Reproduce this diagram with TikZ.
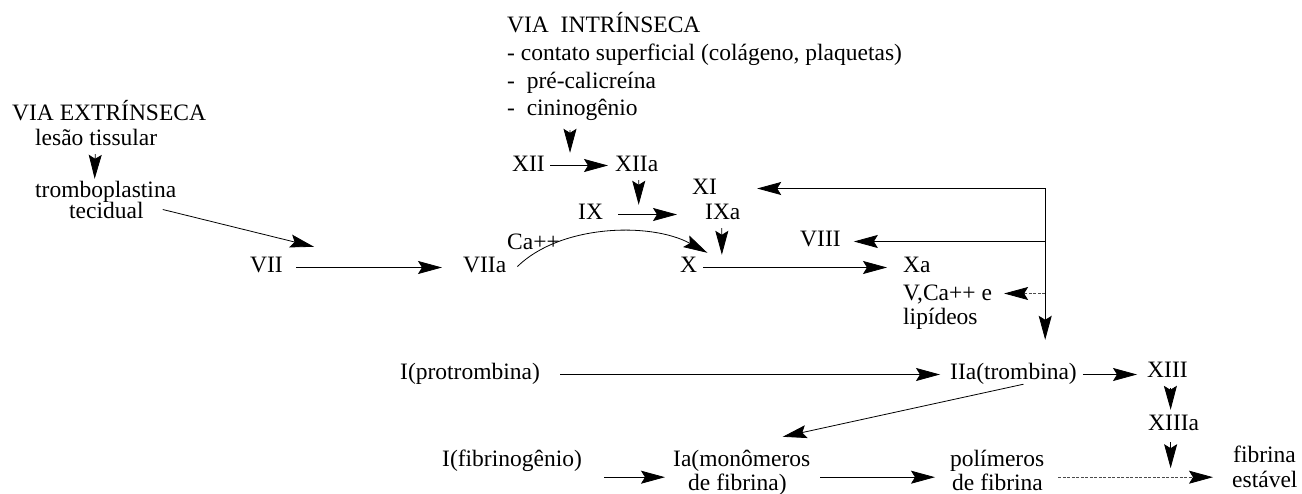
\documentclass[tikz,border=0pt]{standalone}
\usepackage{fontspec}
\setmainfont{Liberation Serif}
\usetikzlibrary{arrows.meta,calc}
\begin{document}
\begin{tikzpicture}[x=1pt,y=-1pt,
  lbl/.style={font=\fontsize{23.5}{28}\selectfont, inner sep=0pt, anchor=base west, text height=16pt, text depth=5pt},
  arr/.style={-{Stealth[length=24pt,width=13pt,inset=4pt,color=black]}, line width=0.8pt},
  dotln/.style={dash pattern=on 3pt off 1.5pt, draw=black!70}]
\useasboundingbox (0,0) rectangle (1302,494);
% texts
\node[lbl] (viaext) at (12,121) {VIA EXTRÍNSECA};
\node[lbl] (lesao) at (35,146) {lesão tissular};
\node[lbl] (trombo) at (35,198) {tromboplastina};
\node[lbl] (tecid) at (69,219) {tecidual};
\node[lbl] (viaint) at (507,33) {VIA\ \ INTRÍNSECA};
\node[lbl] (contato) at (507,61) {- contato superficial (colágeno, plaquetas)};
\node[lbl] (precal) at (507,89) {-\ \ pré-calicreína};
\node[lbl] (cinin) at (507,116) {-\ \ cininogênio};
\node[lbl] (xii) at (512,172) {XII};
\node[lbl] (xiia) at (615,172) {XIIa};
\node[lbl] (xi) at (692,195) {XI};
\node[lbl] (ix) at (578,220) {IX};
\node[lbl] (ixa) at (705,220) {IXa};
\node[lbl] (ca) at (507,250) {Ca++};
\node[lbl] (viii) at (800,247) {VIII};
\node[lbl] (vii) at (250,273) {VII};
\node[lbl] (viia) at (463,273) {VIIa};
\node[lbl] (x) at (680,273) {X};
\node[lbl] (xa) at (903,273) {Xa};
\node[lbl] (vca) at (903,301) {V,Ca++ e};
\node[lbl] (lip) at (903,325) {lipídeos};
\node[lbl] (prot) at (400,380) {I(protrombina)};
\node[lbl] (iia) at (950,380) {IIa(trombina)};
\node[lbl] (xiii) at (1147,378) {XIII};
\node[lbl] (xiiia) at (1148,430) {XIIIa};
\node[lbl] (fibg) at (442,466) {I(fibrinogênio)};
\node[lbl] (ia) at (673,466) {Ia(monômeros};
\node[lbl] (ia2) at (688,490) {de fibrina)};
\node[lbl] (pol) at (950,466) {polímeros};
\node[lbl] (pol2) at (952,490) {de fibrina};
\node[lbl] (fib) at (1233,462) {fibrina};
\node[lbl] (fib2) at (1232,487) {estável};
% connectors: extrinsic
\draw[arr] ($(lesao.south)+(-1,3)$) -- ($(trombo.north)+(-11,-3)$);
\draw[arr] ($(tecid.east)+(19,-4)$) -- ($(vii.north east)+(31,-10)$);
\draw[arr] ($(vii.east)+(13,0)$) -- ($(viia.west)+(-21,0)$);
\draw[arr] ($(viia.east)+(11,-1)$) .. controls ($(viia.east)+(54,-43)$) and ($(x.north east)+(-47,-35)$) .. ($(x.north east)+(10,-4)$);
% intrinsic
\draw[arr] ($(cinin.south west)+(63,9)$) -- ($(xii.north east)+(25,-3)$);
\draw[arr] ($(xii.east)+(5,-1)$) -- ($(xiia.west)+(-7,-1)$);
\draw[arr] ($(xiia.south)+(2,3)$) -- ($(ix.north east)+(35.5,1)$);
\draw[arr] ($(ix.east)+(15,0)$) -- ($(ixa.west)+(-28,0)$);
\draw[arr] ($(ixa.south)+(-1,3)$) -- ($(x.north east)+(24.5,-2)$);
\draw[arr] ($(x.east)+(6,0)$) -- ($(xa.west)+(-16,0)$);
% feedback
\coordinate (fb) at ($(xi.east)+(328,-1)$);
\draw[arr] (fb) -- ($(xi.east)+(40,-1)$);
\draw[arr] (fb |- viii.east) -- ($(viii.east)+(13,0)$);
\draw[arr, dotln] ($(fb |- vca.east)+(0,-2)$) -- ($(vca.east)+(12,-2)$);
\draw[arr] (fb) -- ($(fb |- iia.north)+(0,-24)$);
% common pathway
\draw[arr] ($(prot.east)+(20,0)$) -- ($(iia.west)+(-10,0)$);
\draw[arr] ($(iia.east)+(6,0)$) -- ($(iia.east -| xiii.west)+(-10,0)$);
\draw[arr] ($(xiii.south)+(3,5)$) -- ($(xiiia.north)+(-3,-4)$);
\draw[arr] ($(xiiia.south)+(-3,7)$) -- ($(xiiia.south)+(-3,33)$);
\draw[arr] ($(iia.south)+(10,-1)$) -- ($(ia.north)+(41,-13)$);
\draw[arr] ($(fibg.south east)+(22,6)$) -- ($(ia.south west)+(-8,6)$);
\draw[arr] ($(ia.south east)+(10,6)$) -- ($(pol.south west)+(-15,6)$);
\draw[arr, dotln] ($(pol.south east)+(14,6)$) -- ($(fib.south west)+(-20,10)$);
\end{tikzpicture}
\end{document}
